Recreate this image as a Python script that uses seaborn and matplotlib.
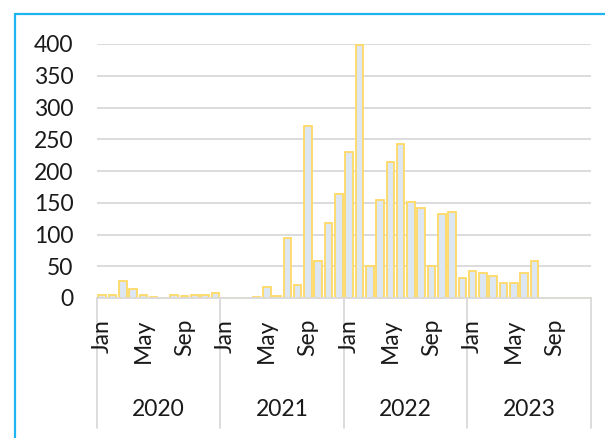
import matplotlib
matplotlib.use("Agg")
import matplotlib.pyplot as plt
import matplotlib.transforms as mtransforms
from matplotlib.lines import Line2D
import seaborn as sns
import pandas as pd

# monthly counts, Jan 2020 .. Dec 2023
years = ["2020", "2021", "2022", "2023"]
months = ["Jan", "Feb", "Mar", "Apr", "May", "Jun",
          "Jul", "Aug", "Sep", "Oct", "Nov", "Dec"]
values_2020 = [5, 4, 27, 14, 5, 1, 0, 5, 3, 5, 5, 8]
values_2021 = [0, 0, 0, 1, 17, 3, 95, 21, 271, 59, 118, 163]
values_2022 = [230, 398, 50, 155, 214, 242, 151, 141, 50, 133, 135, 31]
values_2023 = [43, 39, 34, 24, 24, 39, 58, 0, 0, 0, 0, 0]
shown_months = ["Jan", "May", "Sep"]

all_values = values_2020 + values_2021 + values_2022 + values_2023
df = pd.DataFrame({
    "Year": [y for y in years for _ in months],
    "Month": months * len(years),
    "Count": all_values,
})
df["Period"] = df["Year"] + "-" + df["Month"]

sns.set_style("white")
plt.rcParams["font.family"] = ["Lato", "DejaVu Sans"]

fig = plt.figure(figsize=(6.05, 4.38), dpi=100)
W, H = 605, 438
ax = fig.add_axes([97 / W, 1 - 298 / H, (591 - 97) / W, (298 - 44) / H])

sns.barplot(data=df, x="Period", y="Count", color="#DDE7F2",
            edgecolor="#FFD966", linewidth=1.3, width=0.74,
            saturation=1, ax=ax)

ax.set_ylim(0, 400)
ax.set_xlim(-0.5, len(df) - 0.5)
ax.set_yticks(range(0, 401, 50))
ax.yaxis.grid(True, color="#D9D9D9", linewidth=1.3)
ax.set_axisbelow(True)
for side in ["top", "right", "left"]:
    ax.spines[side].set_visible(False)
ax.spines["bottom"].set_color("#D9D9D9")
ax.spines["bottom"].set_linewidth(1.3)
ax.set_xlabel("")
ax.set_ylabel("")

# month tick labels every 4 months
tick_pos = [i for i, m in enumerate(df["Month"]) if m in shown_months]
ax.set_xticks(tick_pos)
ax.set_xticklabels([df["Month"][i] for i in tick_pos], rotation=90,
                   fontsize=16.5, color="#1a1a1a", va="top")
ax.tick_params(axis="x", length=0, pad=15)
ax.tick_params(axis="y", length=0, pad=17, labelsize=16.5, labelcolor="#1a1a1a")

# year group separators and labels
trans = mtransforms.blended_transform_factory(ax.transData, ax.transAxes)
sep_bottom = -(428 - 298) / (298 - 44)
for k in range(len(years) + 1):
    xs = k * 12 - 0.5
    ax.add_line(Line2D([xs, xs], [0, sep_bottom], transform=trans,
                       color="#D9D9D9", linewidth=1.3, clip_on=False,
                       zorder=0.3))
for k, y in enumerate(years):
    ax.text(k * 12 + 5.5, -(410 - 298) / (298 - 44), y, transform=trans,
            ha="center", va="center", fontsize=16.5, color="#1a1a1a")

# outer chart frame (light blue), cropped at right and bottom
fig.add_artist(Line2D([15 / W, 15 / W], [1 - 14 / H, 0],
                      transform=fig.transFigure, color="#1DB4F0", linewidth=1.6))
fig.add_artist(Line2D([15 / W, 1], [1 - 14 / H, 1 - 14 / H],
                      transform=fig.transFigure, color="#1DB4F0", linewidth=1.6))

fig.savefig("out.png", dpi=100)
